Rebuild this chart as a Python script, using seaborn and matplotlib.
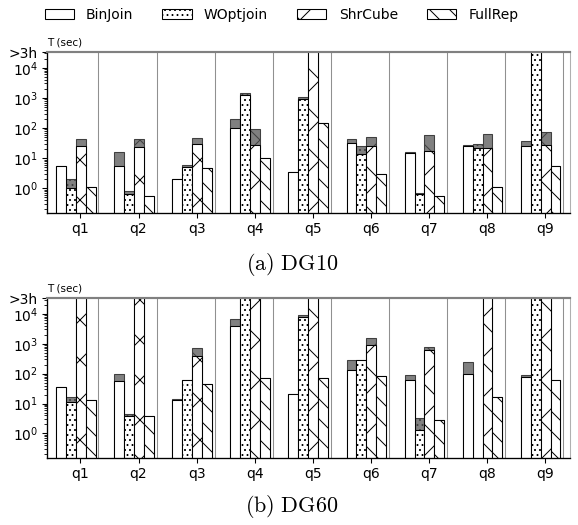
import numpy as np
import pandas as pd
import seaborn as sns
import matplotlib.pyplot as plt
from matplotlib.patches import Patch

queries = ['q1', 'q2', 'q3', 'q4', 'q5', 'q6', 'q7', 'q8', 'q9']
methods = ['BinJoin', 'WOptjoin', 'ShrCube', 'FullRep']
hatches = ['', '....', 'x', '\\\\']

OVER = 1e6  # run did not finish within 3h
YTOP = 10 ** 4.52

# DG10: white part (base) and full height incl. gray part (total), seconds
dg10_base = {
    'BinJoin': [5.3, 5.3, 2.0, 98, 3.5, 33, 14.7, 24.5, 26],
    'WOptjoin': [1.0, 0.65, 5.0, 1200, 930, 13.6, 0.65, 21, OVER],
    'ShrCube': [24.5, 23, 30, 28, OVER, 24.5, 16.7, 21, 26.5],
    'FullRep': [1.08, 0.56, 4.8, 10, 150, 2.9, 0.57, 1.08, 5.6],
}
dg10_total = {
    'BinJoin': [5.3, 15.4, 2.0, 200, 3.5, 43, 15.4, 27, 38],
    'WOptjoin': [2.0, 0.79, 6.0, 1400, 1050, 24.5, 0.72, 28.5, OVER],
    'ShrCube': [43, 43, 46, 93, OVER, 50, 58, 65, 71],
    'FullRep': [1.08, 0.56, 4.8, 10, 150, 2.9, 0.57, 1.08, 5.6],
}

# DG60
dg60_base = {
    'BinJoin': [36, 57, 13.5, 3800, 21.5, 135, 63, 95, 77],
    'WOptjoin': [11, 3.8, 60, OVER, 7700, 280, 1.36, np.nan, OVER],
    'ShrCube': [OVER, OVER, 380, OVER, OVER, 930, 600, OVER, OVER],
    'FullRep': [13.6, 3.8, 46, 73, 73, 86, 2.9, 16.7, 60],
}
dg60_total = {
    'BinJoin': [36, 95, 14.7, 6500, 21.5, 290, 90, 250, 90],
    'WOptjoin': [16.5, 4.6, 60, OVER, 9000, 280, 3.4, np.nan, OVER],
    'ShrCube': [OVER, OVER, 740, OVER, OVER, 1600, 810, OVER, OVER],
    'FullRep': [13.6, 3.8, 46, 73, 73, 86, 2.9, 16.7, 60],
}

plt.rcParams['hatch.linewidth'] = 0.6


def make_df(base, total):
    rows = []
    for m in methods:
        for q, b, t in zip(queries, base[m], total[m]):
            rows.append({'query': q, 'method': m, 'base': b, 'total': t})
    return pd.DataFrame(rows)


def draw(ax, base, total):
    df = make_df(base, total)
    sns.barplot(data=df, x='query', y='total', hue='method', order=queries,
                hue_order=methods, palette=['#808080'] * 4, edgecolor='#404040',
                linewidth=0.64, width=0.68, errorbar=None, legend=False, ax=ax)
    sns.barplot(data=df, x='query', y='base', hue='method', order=queries,
                hue_order=methods, palette=['white'] * 4, edgecolor='black',
                linewidth=0.64, width=0.68, errorbar=None, legend=False, ax=ax)
    for j, cont in enumerate(ax.containers):
        for bar in cont:
            bar.set_hatch(hatches[j % 4])

    ax.set_yscale('log')
    ax.set_ylim(10 ** -0.83, YTOP)
    ax.set_xlim(-0.5, 8.5)
    ax.set_yticks([1, 10, 100, 1000, 1e4, YTOP],
                  ['$10^{0}$', '$10^{1}$', '$10^{2}$', '$10^{3}$', '$10^{4}$', '>3h'])
    ax.set_xticks(np.arange(len(queries)) + 0.08, queries)
    ax.set_xlabel('')
    ax.set_ylabel('')
    for i in range(len(queries)):
        ax.axvline(i + 0.39, color='#909090', lw=0.64, zorder=0)

    ax.tick_params(axis='both', which='major', labelsize=8.3, length=2.9,
                   width=0.64, pad=2.4)
    ax.tick_params(axis='y', which='minor', length=1.6, width=0.5)
    for s in ['left', 'bottom']:
        ax.spines[s].set_linewidth(0.8)
    ax.spines['top'].set_color('#808080')
    ax.spines['top'].set_linewidth(1.3)
    ax.spines['right'].set_color('#b0b0b0')
    ax.spines['right'].set_linewidth(0.64)

    ax.text(0.0, 1.03, 'T (sec)', transform=ax.transAxes, fontsize=6.2,
            ha='left', va='bottom')


fig = plt.figure(figsize=(578 / 120, 525 / 120), dpi=120)
ax1 = fig.add_axes([0.0808, 0.5937, 0.905, 0.3072])
ax2 = fig.add_axes([0.0808, 0.127, 0.905, 0.3048])

draw(ax1, dg10_base, dg10_total)
draw(ax2, dg60_base, dg60_total)

fig.text(0.505, 1 - 265 / 525, r'$\mathrm{(a)\ DG10}$', ha='center', va='center',
         fontsize=13.3, math_fontfamily='cm')
fig.text(0.505, 1 - 506 / 525, r'$\mathrm{(b)\ DG60}$', ha='center', va='center',
         fontsize=13.3, math_fontfamily='cm')

handles = [Patch(facecolor='white', edgecolor='black', linewidth=0.64, hatch=h)
           for h in hatches]
fig.legend(handles, methods, loc='center', bbox_to_anchor=(0.487, 0.971),
           ncol=4, frameon=False, fontsize=8.3, handlelength=2.1,
           handleheight=0.72, handletextpad=0.9, columnspacing=2.1,
           borderpad=0.2)

fig.savefig('out.png', dpi=120)
